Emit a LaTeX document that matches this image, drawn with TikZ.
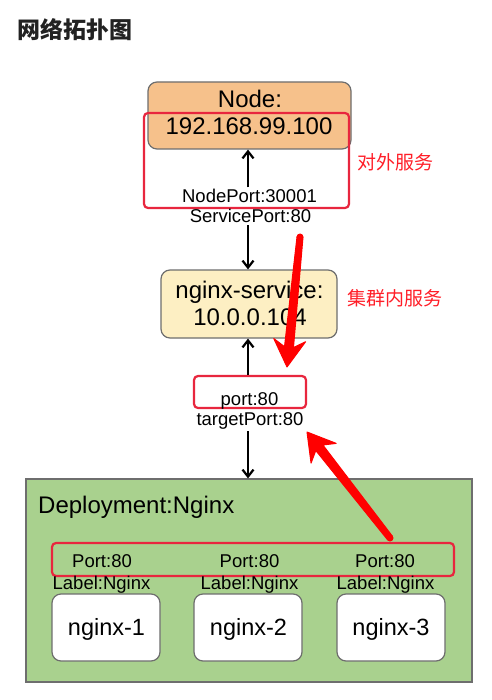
\documentclass[tikz,border=0pt]{standalone}
\usepackage{fontspec}
\setmainfont{Liberation Sans}
\newfontfamily\cjk{Noto Sans CJK SC}
\usetikzlibrary{arrows.meta,calc}
\definecolor{nodeorange}{HTML}{F6C18B}
\definecolor{svcyellow}{HTML}{FDEFC3}
\definecolor{depgreen}{HTML}{A9D18E}
\definecolor{boxred}{HTML}{E8263E}
\definecolor{arrred}{HTML}{FF0000}
\definecolor{cnred}{HTML}{FF1E28}
\definecolor{edgegray}{HTML}{6E6E6E}
\definecolor{titleblack}{HTML}{222222}
\newcommand\RedArrow[2]{%
  \path ($(#2)!20pt!(#1)$) coordinate (#1neck)
        ($(#2)!27pt!(#1)$) coordinate (#1barb);
  \fill[arrred, draw=arrred, line width=1pt, line join=round]
    ($(#1)!3pt!90:(#2)$) -- ($(#1neck)!4.5pt!90:(#2)$) -- ($(#1barb)!16pt!90:(#2)$)
    -- (#2) -- ($(#1barb)!16pt!-90:(#2)$) -- ($(#1neck)!4.5pt!-90:(#2)$)
    -- ($(#1)!3pt!-90:(#2)$) -- cycle;
  \fill[arrred] (#1) circle (3.5pt);
}
\begin{document}
\begin{tikzpicture}[x=1pt,y=-1pt,
  box/.style={draw=edgegray, line width=1.2pt, rounded corners=9pt, inner sep=0pt},
  redbox/.style={draw=boxred, line width=2.2pt, rounded corners=4pt, inner sep=0pt},
  lbl/.style={font=\fontsize{18.5}{20}\selectfont, inner sep=2pt, anchor=base},
  big/.style={font=\fontsize{24}{26}\selectfont, inner sep=0pt, anchor=base},
  podtxt/.style={font=\fontsize{23.5}{26}\selectfont, inner sep=0pt, anchor=base},
  cnlbl/.style={font=\cjk\fontsize{19}{21}\selectfont, text=cnred, inner sep=0pt},
  blk/.style={draw=black, line width=2.2pt, -{Straight Barb[length=7pt,width=11pt]}}]
\useasboundingbox (0,0) rectangle (491,700);
\fill[white] (0,0) rectangle (491,700);

% title
\node[font=\cjk\bfseries\fontsize{23}{25}\selectfont, text=titleblack, inner sep=0pt] (title) at (74.5,30) {网络拓扑图};

% host node
\node[box, fill=nodeorange, minimum width=203pt, minimum height=67pt] (host) at (249.5,115.5) {};
\node[big] (hostA) at (250,108) {Node:};
\node[big] (hostB) at (249,135) {192.168.99.100};
\node[redbox, minimum width=205pt, minimum height=95pt] (rb1) at (246.5,160.5) {};
\node[cnlbl] (outer) at (395,162) {对外服务};

\node[lbl] (np) at (249.5,203) {NodePort:30001};
\node[lbl] (sp) at (250.5,223) {ServicePort:80};

% service
\node[box, fill=svcyellow, minimum width=176pt, minimum height=68pt] (svc) at (249,304) {};
\node[big] (svcA) at (249.5,298) {nginx-service:};
\node[big] (svcB) at (250,325) {10.0.0.104};
\node[cnlbl] (inner) at (395,298.5) {集群内服务};

\node[redbox, minimum width=112pt, minimum height=32pt] (rb2) at (250,392) {};
\node[lbl] (pt) at (249.5,405) {port:80};
\node[lbl] (tp) at (250,425) {targetPort:80};

% deployment
\node[draw=edgegray, line width=1.2pt, fill=depgreen, minimum width=446pt, minimum height=203pt, inner sep=0pt] (dep) at (249,580.5) {};
\node[font=\fontsize{24}{26}\selectfont, anchor=base west, inner sep=0pt] (depT) at (38,513) {Deployment:Nginx};
\node[redbox, minimum width=402pt, minimum height=33pt] (rb3) at (253,559.5) {};
\node[lbl] (p1) at (102,567) {Port:80};
\node[lbl] (p2) at (249.5,567) {Port:80};
\node[lbl] (p3) at (385,567) {Port:80};
\node[lbl] (l1) at (101.5,589) {Label:Nginx};
\node[lbl] (l2) at (249.5,589) {Label:Nginx};
\node[lbl] (l3) at (385.5,589) {Label:Nginx};
\node[box, fill=white, minimum width=108pt, minimum height=67pt] (pod1) at (106,627.5) {};
\node[box, fill=white, minimum width=108pt, minimum height=67pt] (pod2) at (248,627.5) {};
\node[box, fill=white, minimum width=108pt, minimum height=67pt] (pod3) at (391,627.5) {};
\node[podtxt] (pod1T) at (106.5,635) {nginx-1};
\node[podtxt] (pod2T) at (248.5,635) {nginx-2};
\node[podtxt] (pod3T) at (391,635) {nginx-3};

% black arrows
\draw[blk] ([xshift=-1.5pt]np.north) -- ([xshift=-1.5pt]np.north |- host.south);
\draw[blk] ([xshift=-2.5pt]sp.south) -- ([xshift=-2.5pt]sp.south |- svc.north);
\draw[blk] ([xshift=-2pt]rb2.north) -- ([xshift=-2pt]rb2.north |- svc.south);
\draw[blk] ([xshift=-2pt]tp.south) -- ([xshift=-2pt]tp.south |- dep.north);

% red arrows
\coordinate (ra) at (300,237);
\coordinate (raTip) at (287,367);
\RedArrow{ra}{raTip}
\coordinate (rb) at (390,538);
\coordinate (rbTip) at (307,432);
\RedArrow{rb}{rbTip}
\end{tikzpicture}
\end{document}
